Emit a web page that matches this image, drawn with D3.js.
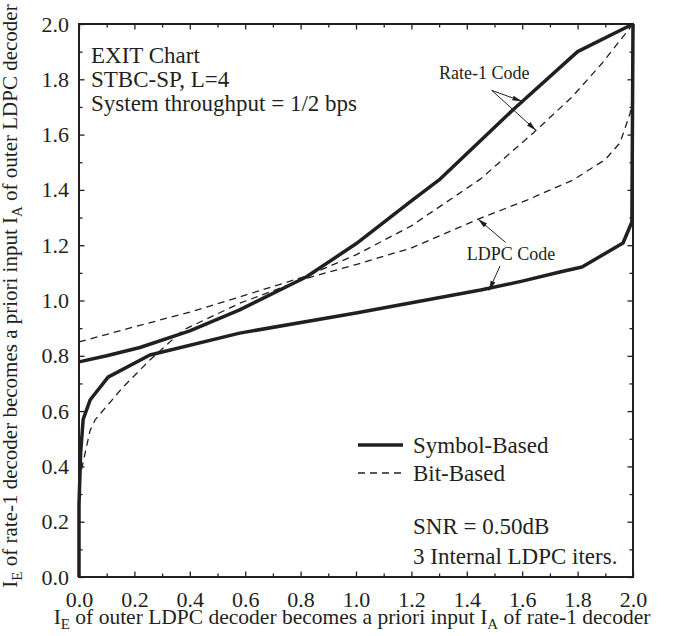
<!DOCTYPE html>
<html>
<head>
<meta charset="utf-8">
<script src="https://cdn.jsdelivr.net/npm/d3@7"></script>
<style>
  body { margin: 0; background: #fff; }
  text { font-family: "Liberation Serif", "Times New Roman", serif; fill: #231f20; }
</style>
</head>
<body>
<svg id="chart" width="674" height="636"></svg>
<script>
// EXIT curves, [x, y] pairs
var symbolRate1 = [[0, 0.778], [0.1, 0.80], [0.22, 0.83], [0.4, 0.89], [0.58, 0.966], [0.82, 1.085],
    [1.0, 1.205], [1.2, 1.36], [1.3, 1.436], [1.567, 1.69], [1.8, 1.90], [2.0, 2.0]];
var symbolLdpc = [[0, 0], [0, 0.26], [0.006, 0.45], [0.015, 0.57], [0.04, 0.64], [0.105, 0.723],
    [0.256, 0.803], [0.58, 0.882], [1.0, 0.955], [1.45, 1.038], [1.6, 1.07], [1.736, 1.103],
    [1.816, 1.121], [1.964, 1.208], [1.996, 1.284], [2.0, 2.0]];
var bitRate1 = [[0, 0.85], [0.2, 0.905], [0.4, 0.958], [0.58, 1.013], [0.82, 1.088], [1.0, 1.165],
    [1.2, 1.27], [1.45, 1.44], [1.64, 1.606], [1.78, 1.736], [1.89, 1.86], [2.0, 2.0]];
var bitLdpc = [[0, 0], [0, 0.25], [0.005, 0.37], [0.04, 0.53], [0.058, 0.568], [0.159, 0.687],
    [0.256, 0.785], [0.376, 0.893], [0.58, 0.99], [0.82, 1.08], [1.0, 1.13], [1.2, 1.19],
    [1.45, 1.298], [1.617, 1.363], [1.784, 1.436], [1.9, 1.51], [1.953, 1.57], [1.99, 1.678],
    [2.0, 1.75], [2.0, 2.0]];

var majorTicks = [0, 0.2, 0.4, 0.6, 0.8, 1.0, 1.2, 1.4, 1.6, 1.8, 2.0];
var minorTicks = [0.1, 0.3, 0.5, 0.7, 0.9, 1.1, 1.3, 1.5, 1.7, 1.9];

var infoLines = ['EXIT Chart', 'STBC-SP, L=4', 'System throughput = 1/2 bps'];
var snrLines = ['SNR = 0.50dB', '3 Internal LDPC iters.'];
var legendItems = [{ name: 'Symbol-Based', dash: null, width: 3.5 },
                   { name: 'Bit-Based', dash: '7,5', width: 1.3 }];

var ink = '#231f20';
var svg = d3.select('#chart');
var x = d3.scaleLinear().domain([0, 2]).range([79, 633]);
var y = d3.scaleLinear().domain([0, 2]).range([577, 24]);

// axes: inward ticks on all four sides, labels on left/bottom only
function addAxis(axis, transform, values, size, labels) {
    var g = svg.append('g')
        .attr('transform', transform)
        .call(axis.tickValues(values).tickSize(-size)
            .tickFormat(labels ? d3.format('.1f') : ''));
    g.select('.domain').remove();
    g.selectAll('line').attr('stroke', ink).attr('stroke-width', 1.3);
    g.selectAll('text').attr('font-size', 22).attr('fill', ink)
        .style('font-family', '"Liberation Serif", serif');
    return g;
}
addAxis(d3.axisBottom(x).tickPadding(14), 'translate(0,577)', majorTicks, 5.5, true);
addAxis(d3.axisBottom(x), 'translate(0,577)', minorTicks, 3.5, false);
addAxis(d3.axisLeft(y).tickPadding(10), 'translate(79,0)', majorTicks, 5.5, true);
addAxis(d3.axisLeft(y), 'translate(79,0)', minorTicks, 3.5, false);
addAxis(d3.axisTop(x), 'translate(0,24)', majorTicks, 5.5, false);
addAxis(d3.axisTop(x), 'translate(0,24)', minorTicks, 3.5, false);
addAxis(d3.axisRight(y), 'translate(633,0)', majorTicks, 5.5, false);
addAxis(d3.axisRight(y), 'translate(633,0)', minorTicks, 3.5, false);

svg.append('rect')
    .attr('x', x(0)).attr('y', y(2))
    .attr('width', x(2) - x(0)).attr('height', y(0) - y(2))
    .attr('fill', 'none').attr('stroke', ink).attr('stroke-width', 2);

var line = d3.line().x(function (d) { return x(d[0]); }).y(function (d) { return y(d[1]); });

var curves = [
    { data: bitRate1, style: legendItems[1] },
    { data: bitLdpc, style: legendItems[1] },
    { data: symbolRate1, style: legendItems[0] },
    { data: symbolLdpc, style: legendItems[0] }
];
svg.selectAll('path.curve')
    .data(curves)
    .enter().append('path')
    .attr('class', 'curve')
    .attr('d', function (d) { return line(d.data); })
    .attr('fill', 'none')
    .attr('stroke', ink)
    .attr('stroke-width', function (d) { return d.style.width; })
    .attr('stroke-dasharray', function (d) { return d.style.dash; })
    .attr('stroke-linejoin', 'round');

// axis titles
var xTitle = svg.append('text')
    .attr('x', 352).attr('y', 624)
    .attr('text-anchor', 'middle').attr('font-size', 21.5);
xTitle.append('tspan').text('I');
xTitle.append('tspan').attr('font-size', 15).attr('dy', 5).text('E');
xTitle.append('tspan').attr('dy', -5).text(' of outer LDPC decoder becomes a priori input I');
xTitle.append('tspan').attr('font-size', 15).attr('dy', 5).text('A');
xTitle.append('tspan').attr('dy', -5).text(' of rate-1 decoder');

var yTitle = svg.append('text')
    .attr('transform', 'translate(17,296) rotate(-90)')
    .attr('text-anchor', 'middle').attr('font-size', 21);
yTitle.append('tspan').text('I');
yTitle.append('tspan').attr('font-size', 15).attr('dy', 5).text('E');
yTitle.append('tspan').attr('dy', -5).text(' of rate-1 decoder becomes a priori input I');
yTitle.append('tspan').attr('font-size', 15).attr('dy', 5).text('A');
yTitle.append('tspan').attr('dy', -5).text(' of outer LDPC decoder');

// text blocks
svg.append('g').selectAll('text')
    .data(infoLines).enter().append('text')
    .attr('x', 91).attr('y', function (d, i) { return 63 + i * 24; })
    .attr('font-size', 23).text(function (d) { return d; });

svg.append('g').selectAll('text')
    .data(snrLines).enter().append('text')
    .attr('x', 413).attr('y', function (d, i) { return 534 + i * 30; })
    .attr('font-size', 23).text(function (d) { return d; });

// legend
var legend = svg.append('g').selectAll('g')
    .data(legendItems).enter().append('g')
    .attr('transform', function (d, i) { return 'translate(358,' + (445 + i * 28) + ')'; });
legend.append('line')
    .attr('x1', 0).attr('x2', 45)
    .attr('stroke', ink)
    .attr('stroke-width', function (d) { return d.width; })
    .attr('stroke-dasharray', function (d) { return d.dash; });
legend.append('text')
    .attr('x', 55).attr('y', 7.5)
    .attr('font-size', 23).text(function (d) { return d.name; });

// callout labels with arrows
var defs = svg.append('defs');
defs.append('marker')
    .attr('id', 'arrow').attr('viewBox', '0 0 10 6')
    .attr('refX', 10).attr('refY', 3)
    .attr('markerWidth', 10).attr('markerHeight', 6)
    .attr('markerUnits', 'userSpaceOnUse').attr('orient', 'auto')
    .append('path').attr('d', 'M0,0.5L10,3L0,5.5Z').attr('fill', ink);

var callouts = [
    { label: 'Rate-1 Code', tx: 1.30, ty: 1.80, arrows: [[1.49, 1.76, 1.60, 1.72], [1.49, 1.76, 1.65, 1.615]] },
    { label: 'LDPC Code', tx: 1.40, ty: 1.146, arrows: [[1.54, 1.21, 1.44, 1.295], [1.52, 1.125, 1.48, 1.036]] }
];
callouts.forEach(function (c) {
    svg.append('text')
        .attr('x', x(c.tx)).attr('y', y(c.ty))
        .attr('font-size', 18).text(c.label);
    c.arrows.forEach(function (a) {
        svg.append('line')
            .attr('x1', x(a[0])).attr('y1', y(a[1]))
            .attr('x2', x(a[2])).attr('y2', y(a[3]))
            .attr('stroke', ink).attr('stroke-width', 1)
            .attr('marker-end', 'url(#arrow)');
    });
});
</script>
</body>
</html>
